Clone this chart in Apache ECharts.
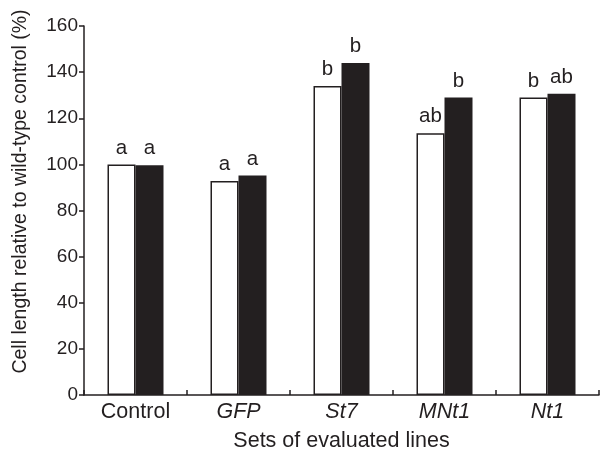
<!DOCTYPE html>
<html>
<head>
<meta charset="utf-8">
<script src="https://cdn.jsdelivr.net/npm/echarts@6/dist/echarts.min.js"></script>
<style>
  html, body { margin: 0; padding: 0; background: #fff; }
  #chart { width: 601px; height: 450px; }
</style>
</head>
<body>
<div id="chart"></div>
<script>
// Sets of evaluated lines and their mean cell length (% of wild-type control)
const categories = ['Control', 'GFP', 'St7', 'MNt1', 'Nt1'];
const italicCategories = ['GFP', 'St7', 'MNt1', 'Nt1'];
const openBarValues = [100, 92.8, 134, 113.5, 129];
const filledBarValues = [99.6, 95.2, 144, 129, 130.6];
// Significance letters above each bar
const openBarLetters = ['a', 'a', 'b', 'ab', 'b'];
const filledBarLetters = ['a', 'a', 'b', 'b', 'ab'];
// Value axis range
const yMin = 0;
const yMax = 160;
const yStep = 20;

const FONT = '"Liberation Sans", Arial, Helvetica, sans-serif';
const INK = '#231f20';

const chart = echarts.init(document.getElementById('chart'), null, { renderer: 'canvas' });

function letterLabel(letters) {
  return {
    show: true,
    position: 'top',
    distance: 6,
    fontFamily: FONT,
    fontSize: 20.5,
    color: INK,
    formatter: p => letters[p.dataIndex]
  };
}

chart.setOption({
  animation: false,
  backgroundColor: '#fff',
  grid: { left: 84, right: 2, top: 26, bottom: 55, containLabel: false, outerBoundsMode: 'none' },
  xAxis: {
    type: 'category',
    data: categories,
    boundaryGap: true,
    name: 'Sets of evaluated lines',
    nameLocation: 'middle',
    nameGap: 35,
    nameTextStyle: { fontFamily: FONT, fontSize: 21.5, color: INK },
    axisLine: { show: true, lineStyle: { color: INK, width: 1.5 } },
    axisTick: { show: true, inside: true, length: 5, interval: 0, lineStyle: { color: INK, width: 1.5 } },
    axisLabel: {
      interval: 0,
      hideOverlap: false,
      margin: 6,
      fontFamily: FONT,
      fontSize: 21.5,
      color: INK,
      formatter: v => italicCategories.includes(v) ? '{it|' + v + '}' : v,
      rich: { it: { fontFamily: FONT, fontSize: 21.5, color: INK, fontStyle: 'italic' } }
    },
    splitLine: { show: false }
  },
  yAxis: {
    type: 'value',
    min: yMin,
    max: yMax,
    interval: yStep,
    name: 'Cell length relative to wild-type control (%)',
    nameLocation: 'middle',
    nameGap: 53,
    nameTextStyle: { fontFamily: FONT, fontSize: 19.5, color: INK, padding: [0, 0, 0, 38] },
    axisLine: { show: true, lineStyle: { color: INK, width: 1.5 } },
    axisTick: { show: true, inside: false, length: 5, lineStyle: { color: INK, width: 1.5 } },
    axisLabel: { margin: 6, fontFamily: FONT, fontSize: 19, color: INK },
    splitLine: { show: false }
  },
  series: [
    {
      type: 'bar',
      data: openBarValues,
      barWidth: 28,
      barGap: '0%',
      itemStyle: { color: '#fff', borderColor: INK, borderWidth: 1.5 },
      label: letterLabel(openBarLetters)
    },
    {
      type: 'bar',
      data: filledBarValues,
      barWidth: 28,
      barGap: '0%',
      itemStyle: { color: INK, borderColor: INK, borderWidth: 0 },
      label: letterLabel(filledBarLetters)
    }
  ]
});
</script>
</body>
</html>
